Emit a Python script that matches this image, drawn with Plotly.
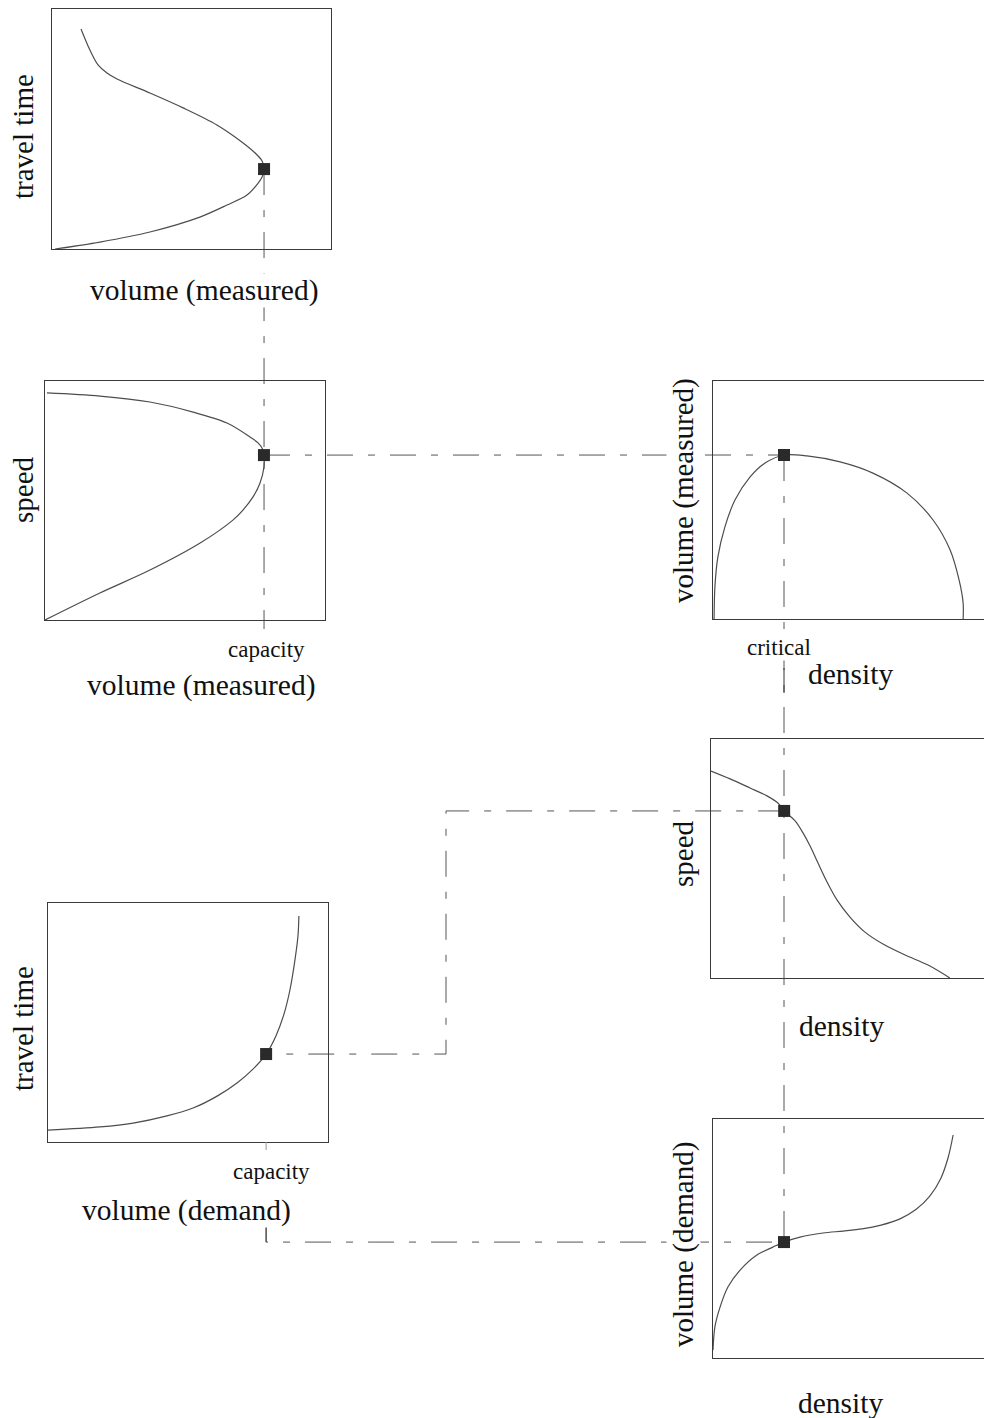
import plotly.graph_objects as go

W, H = 984, 1418

# ---- curve data (each panel normalised to 0..1 on both axes) ----
# Panel 1: travel time against measured volume
p1_volume = [0.104, 0.136, 0.165, 0.197, 0.233, 0.351, 0.470, 0.591, 0.685, 0.728,
             0.753, 0.760, 0.753, 0.731, 0.699, 0.627, 0.530, 0.351, 0.172, 0.011]
p1_time = [0.917, 0.829, 0.767, 0.733, 0.708, 0.650, 0.588, 0.517, 0.442, 0.400,
           0.367, 0.333, 0.300, 0.263, 0.225, 0.183, 0.133, 0.071, 0.029, 0.000]

# Panel 2: speed against measured volume
p2_volume = [0.007, 0.196, 0.375, 0.529, 0.650, 0.732, 0.761, 0.779, 0.782, 0.782,
             0.768, 0.743, 0.707, 0.671, 0.554, 0.375, 0.196, 0.000]
p2_speed = [0.950, 0.937, 0.912, 0.870, 0.824, 0.766, 0.741, 0.711, 0.690, 0.640,
            0.573, 0.515, 0.460, 0.418, 0.322, 0.209, 0.113, 0.000]

# Panel 3: measured volume against density
p3_density = [0.004, 0.007, 0.018, 0.044, 0.081, 0.137, 0.192, 0.262, 0.347, 0.469,
              0.590, 0.716, 0.812, 0.875, 0.908, 0.923, 0.923]
p3_volume = [0.000, 0.134, 0.261, 0.387, 0.500, 0.597, 0.655, 0.689, 0.685, 0.660,
             0.613, 0.529, 0.416, 0.290, 0.164, 0.067, 0.000]

# Panel 4: speed against density
p4_density = [0.000, 0.070, 0.143, 0.205, 0.245, 0.268, 0.308, 0.337, 0.363, 0.392,
              0.425, 0.462, 0.509, 0.564, 0.630, 0.711, 0.795, 0.875]
p4_speed = [0.866, 0.833, 0.795, 0.762, 0.732, 0.699, 0.657, 0.607, 0.552, 0.481,
            0.402, 0.326, 0.255, 0.192, 0.142, 0.096, 0.054, 0.000]

# Panel 5: travel time against demand volume
p5_volume = [0.000, 0.186, 0.304, 0.425, 0.518, 0.604, 0.675, 0.732, 0.779, 0.814,
             0.843, 0.864, 0.882, 0.893, 0.896]
p5_time = [0.050, 0.063, 0.079, 0.109, 0.142, 0.192, 0.247, 0.305, 0.368, 0.444,
           0.536, 0.636, 0.762, 0.866, 0.946]

# Panel 6: demand volume against density
p6_density = [0.000, 0.007, 0.026, 0.055, 0.100, 0.162, 0.221, 0.262, 0.321, 0.406,
              0.480, 0.550, 0.620, 0.690, 0.750, 0.800, 0.840, 0.868, 0.886]
p6_volume = [0.033, 0.130, 0.213, 0.297, 0.368, 0.431, 0.464, 0.485, 0.506, 0.523,
             0.531, 0.540, 0.556, 0.582, 0.622, 0.677, 0.750, 0.840, 0.933]

# operating point (capacity / critical density) in every panel
op_x = [0.760, 0.782, 0.262, 0.268, 0.779, 0.262]
op_y = [0.333, 0.690, 0.689, 0.699, 0.368, 0.485]

curves = [(p1_volume, p1_time), (p2_volume, p2_speed), (p3_density, p3_volume),
          (p4_density, p4_speed), (p5_volume, p5_time), (p6_density, p6_volume)]

# ---- layout: panel boxes in pixels (left, top, right, bottom) ----
boxes = [(52, 9, 331, 249), (45, 381, 325, 620), (713, 381, 984, 619),
         (711, 739, 984, 978), (48, 903, 328, 1142), (713, 1119, 984, 1358)]
closed_right = [True, True, False, False, True, False]

INK = "#3a3a3a"
CURVE = "#4d4d4d"
FONT = "Liberation Serif"


def px(x):
    return x / W


def py(y):
    return 1 - y / H


def to_paper(i, x, y):
    l, t, r, b = boxes[i]
    return px(l + x * (r - l)), py(b - y * (b - t))


fig = go.Figure()

for i, (cx, cy) in enumerate(curves):
    ax = "" if i == 0 else str(i + 1)
    fig.add_trace(go.Scatter(x=cx, y=cy, mode="lines", xaxis="x" + ax, yaxis="y" + ax,
                             line=dict(color=CURVE, width=1.2, shape="spline", smoothing=0.9),
                             hoverinfo="skip", showlegend=False))
    fig.add_trace(go.Scatter(x=[op_x[i]], y=[op_y[i]], mode="markers",
                             xaxis="x" + ax, yaxis="y" + ax, cliponaxis=False,
                             marker=dict(symbol="square", size=12, color="#2a2a2a",
                                         line=dict(width=0)),
                             hoverinfo="skip", showlegend=False))

axes = {}
for i, (l, t, r, b) in enumerate(boxes):
    ax = "" if i == 0 else str(i + 1)
    common = dict(range=[0, 1], showgrid=False, zeroline=False, showticklabels=False,
                  ticks="", showline=True, linecolor=INK, linewidth=1.2, fixedrange=True)
    axes["xaxis" + ax] = dict(common, domain=[px(l), px(r)], anchor="y" + ax, mirror=True)
    axes["yaxis" + ax] = dict(common, domain=[py(b), py(t)], anchor="x" + ax,
                              mirror=closed_right[i])

# ---- dash-dot connectors between the operating points ----
P = [to_paper(i, op_x[i], op_y[i]) for i in range(6)]
DASH = "26px,15px,7px,15px"
route_x = px(446)


def path(points):
    return "M " + " L ".join(f"{x},{y}" for x, y in points)


connectors = [
    # capacity down through both measured-volume panels
    [P[0], (P[0][0], py(boxes[1][3] + 9))],
    # speed at capacity across to the volume-density panel
    [P[1], P[2]],
    # critical density down through the density panels
    [P[2], (P[2][0], P[5][1])],
    # speed back to the demand travel-time curve
    [P[3], (route_x, P[3][1]), (route_x, P[4][1]), P[4]],
    # demand volume across to the demand-density panel
    [(P[4][0], py(1218)), (P[4][0], P[5][1]), P[5]],
]
shapes = [dict(type="path", xref="paper", yref="paper", path=path(c), layer="below",
               line=dict(color="#555555", width=1, dash=DASH)) for c in connectors]
# short solid ticks at capacity and critical density
shapes.append(dict(type="line", xref="paper", yref="paper",
                   x0=P[4][0], x1=P[4][0], y0=py(1142), y1=py(1150),
                   line=dict(color="#999999", width=1)))
shapes.append(dict(type="line", xref="paper", yref="paper",
                   x0=P[2][0], x1=P[2][0], y0=py(668), y1=py(693),
                   line=dict(color="#333333", width=1)))
shapes.append(dict(type="line", xref="paper", yref="paper",
                   x0=P[4][0], x1=P[4][0], y0=py(1218), y1=P[5][1],
                   line=dict(color="#444444", width=1)))

# ---- text labels: (text, centre x px, centre y px, size, angle, white backing) ----
labels = [
    ("travel time", 23, 137, 29, -90, False),
    ("volume (measured)", 204, 290, 29.5, 0, True),
    ("speed", 23, 490, 29, -90, False),
    ("capacity", 266, 650, 23, 0, True),
    ("volume (measured)", 201, 685, 29.5, 0, False),
    ("volume (measured)", 683, 491, 29, -90, True),
    ("critical", 779, 648, 23, 0, True),
    ("density", 850, 674, 29.5, 0, False),
    ("speed", 683, 854, 29, -90, True),
    ("density", 841, 1026, 29.5, 0, False),
    ("travel time", 23, 1029, 29, -90, False),
    ("capacity", 271, 1171, 23, 0, True),
    ("volume (demand)", 186, 1210, 29.5, 0, True),
    ("volume (demand)", 683, 1245, 29, -90, True),
    ("density", 840, 1403, 29.5, 0, False),
]
annotations = [dict(text=t, x=px(x), y=py(y), xref="paper", yref="paper",
                    xanchor="center", yanchor="middle", showarrow=False, textangle=a,
                    font=dict(family=FONT, size=s, color="#111111"),
                    bgcolor="white" if bg else "rgba(0,0,0,0)", borderpad=0)
               for t, x, y, s, a, bg in labels]

fig.update_layout(width=W, height=H, margin=dict(l=0, r=0, t=0, b=0, pad=0),
                  paper_bgcolor="white", plot_bgcolor="rgba(0,0,0,0)",
                  shapes=shapes, annotations=annotations, showlegend=False, **axes)

fig.write_html("out.html", config={"displayModeBar": False})
